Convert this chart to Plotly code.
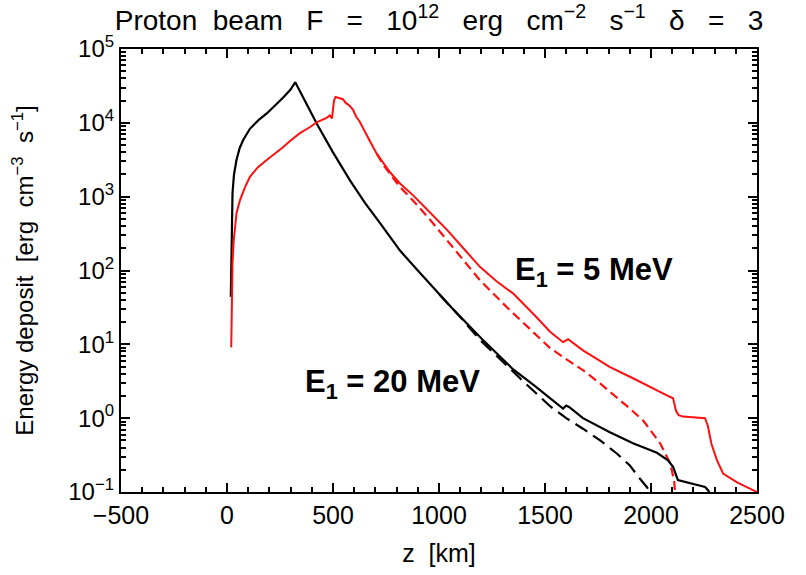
import plotly.graph_objects as go

# ---- data ----
z_black = [18, 22, 26, 33, 45, 60, 77, 108, 150, 189, 230, 264, 300, 322, 425, 500, 580, 650, 722, 816, 900,
           1061, 1200, 1350, 1450, 1524, 1585, 1600, 1615, 1679, 1806, 1915, 2028, 2080, 2104, 2127, 2184,
           2255, 2270, 2282]
e_black = [44, 316, 1120, 2000, 3160, 4570, 5890, 8300, 11000, 13500, 17400, 21900, 28200, 35500, 9550,
           3980, 1660, 830, 437, 186, 100, 31, 12, 4.57, 2.75, 1.86, 1.35, 1.48, 1.41, 1.0, 0.646, 0.457,
           0.339, 0.269, 0.219, 0.145, 0.132, 0.117, 0.105, 0.089]

z_black_dash = [1000, 1100, 1200, 1300, 1400, 1524, 1600, 1679, 1760, 1840, 1900, 1948, 1980, 2005]
e_black_dash = [47.9, 23.4, 11.0, 5.75, 3.1, 1.45, 1.0, 0.72, 0.50, 0.33, 0.229, 0.151, 0.117, 0.089]

z_red = [20, 22, 26, 32, 38, 45, 61, 85, 108, 146, 189, 230, 264, 300, 344, 390, 425, 470, 485, 495, 505,
         512, 530, 547, 560, 575, 594, 610, 625, 641, 660, 680, 707, 740, 769, 816, 877, 960, 1038, 1115,
         1193, 1270, 1349, 1450, 1524, 1585, 1609, 1679, 1807, 1915, 1995, 2075, 2104, 2118, 2130, 2151,
         2255, 2268, 2285, 2311, 2340, 2406, 2500]
e_red = [9.1, 32, 126, 260, 389, 603, 891, 1350, 1860, 2510, 3160, 3890, 4680, 5750, 7240, 8710, 10200,
         11700, 12600, 11500, 20000, 22400, 21400, 20900, 18600, 17400, 15100, 12000, 10500, 8700, 6760,
         5250, 3800, 2820, 2140, 1510, 1050, 600, 355, 200, 112, 72, 49, 25, 14.8, 10.7, 11.7, 8.3, 4.9,
         3.47, 2.63, 2.04, 1.86, 1.26, 1.10, 1.05, 1.0, 0.79, 0.45, 0.27, 0.178, 0.135, 0.1]

z_red_dash = [707, 740, 816, 877, 960, 1038, 1115, 1193, 1321, 1450, 1524, 1600, 1679, 1760, 1840, 1900,
              1963, 2043, 2090, 2109, 2113]
e_red_dash = [3800, 2630, 1350, 890, 479, 257, 138, 74, 31.6, 14.1, 8.9, 6.3, 4.47, 2.95, 1.9, 1.35,
              0.93, 0.457, 0.245, 0.145, 0.1]

x_ticks = [-500, 0, 500, 1000, 1500, 2000, 2500]
x_ticktext = ["−500", "0", "500", "1000", "1500", "2000", "2500"]
y_ticks = [0.1, 1, 10, 100, 1000, 10000, 100000]
y_ticktext = ["10<sup>−1</sup>", "10<sup>0</sup>", "10<sup>1</sup>", "10<sup>2</sup>",
              "10<sup>3</sup>", "10<sup>4</sup>", "10<sup>5</sup>"]
y_minor = [m * 10.0 ** k for k in range(-1, 5) for m in range(2, 10)]

FONT = "Liberation Sans"

fig = go.Figure()
fig.add_trace(go.Scatter(x=z_black_dash, y=e_black_dash, mode="lines",
                         line=dict(color="black", width=2.2, dash="14px,7px")))
fig.add_trace(go.Scatter(x=z_red_dash, y=e_red_dash, mode="lines",
                         line=dict(color="#ff1010", width=2.2, dash="9px,5px")))
fig.add_trace(go.Scatter(x=z_black, y=e_black, mode="lines",
                         line=dict(color="black", width=2.2)))
fig.add_trace(go.Scatter(x=z_red, y=e_red, mode="lines",
                         line=dict(color="#ff1010", width=2)))

fig.update_layout(
    width=806, height=575,
    margin=dict(l=121, r=49, t=49, b=83),
    paper_bgcolor="white", plot_bgcolor="white",
    showlegend=False,
    font=dict(family=FONT, color="black", size=24),
    title=dict(text="Proton  beam   F   =   10<sup>12</sup>   erg   cm<sup>−2</sup>   s<sup>−1</sup>   δ   =   3",
               x=(439 - 121) / 636, xref="paper", xanchor="center",
               y=1 - 20 / 575, yref="container", yanchor="middle",
               font=dict(family=FONT, size=28, color="black")),
    annotations=[
        dict(text="<b>E<sub>1</sub> = 5 MeV</b>", xref="paper", yref="paper",
             x=(594 - 121) / 636, y=(492 - 272) / 443, xanchor="center", yanchor="middle",
             showarrow=False, font=dict(family=FONT, size=31, color="black")),
        dict(text="<b>E<sub>1</sub> = 20 MeV</b>", xref="paper", yref="paper",
             x=(392 - 121) / 636, y=(492 - 384) / 443, xanchor="center", yanchor="middle",
             showarrow=False, font=dict(family=FONT, size=31, color="black")),
    ],
)

fig.update_xaxes(
    range=[-500, 2500], tickmode="array", tickvals=x_ticks, ticktext=x_ticktext,
    ticks="inside", ticklen=9, tickwidth=1.5, tickcolor="black",
    showline=True, linewidth=2.2, linecolor="black", mirror="allticks",
    showgrid=False, zeroline=False,
    minor=dict(tickmode="linear", tick0=-500, dtick=100, ticks="inside", ticklen=5,
               tickwidth=1.5, tickcolor="black", showgrid=False),
    tickfont=dict(family=FONT, size=25),
    title=dict(text="z  [km]", font=dict(family=FONT, size=25), standoff=16),
)
fig.update_yaxes(
    type="log", range=[-1, 5], tickmode="array", tickvals=y_ticks, ticktext=y_ticktext,
    ticks="inside", ticklen=9, tickwidth=1.5, tickcolor="black",
    showline=True, linewidth=2.2, linecolor="black", mirror="allticks",
    showgrid=False, zeroline=False,
    minor=dict(tickmode="array", tickvals=y_minor, ticks="inside", ticklen=5,
               tickwidth=1.5, tickcolor="black", showgrid=False),
    tickfont=dict(family=FONT, size=24),
    title=dict(text="Energy deposit  [erg  cm<sup>−3</sup>  s<sup>−1</sup>]",
               font=dict(family=FONT, size=24), standoff=28),
)

fig.write_html("out.html")
